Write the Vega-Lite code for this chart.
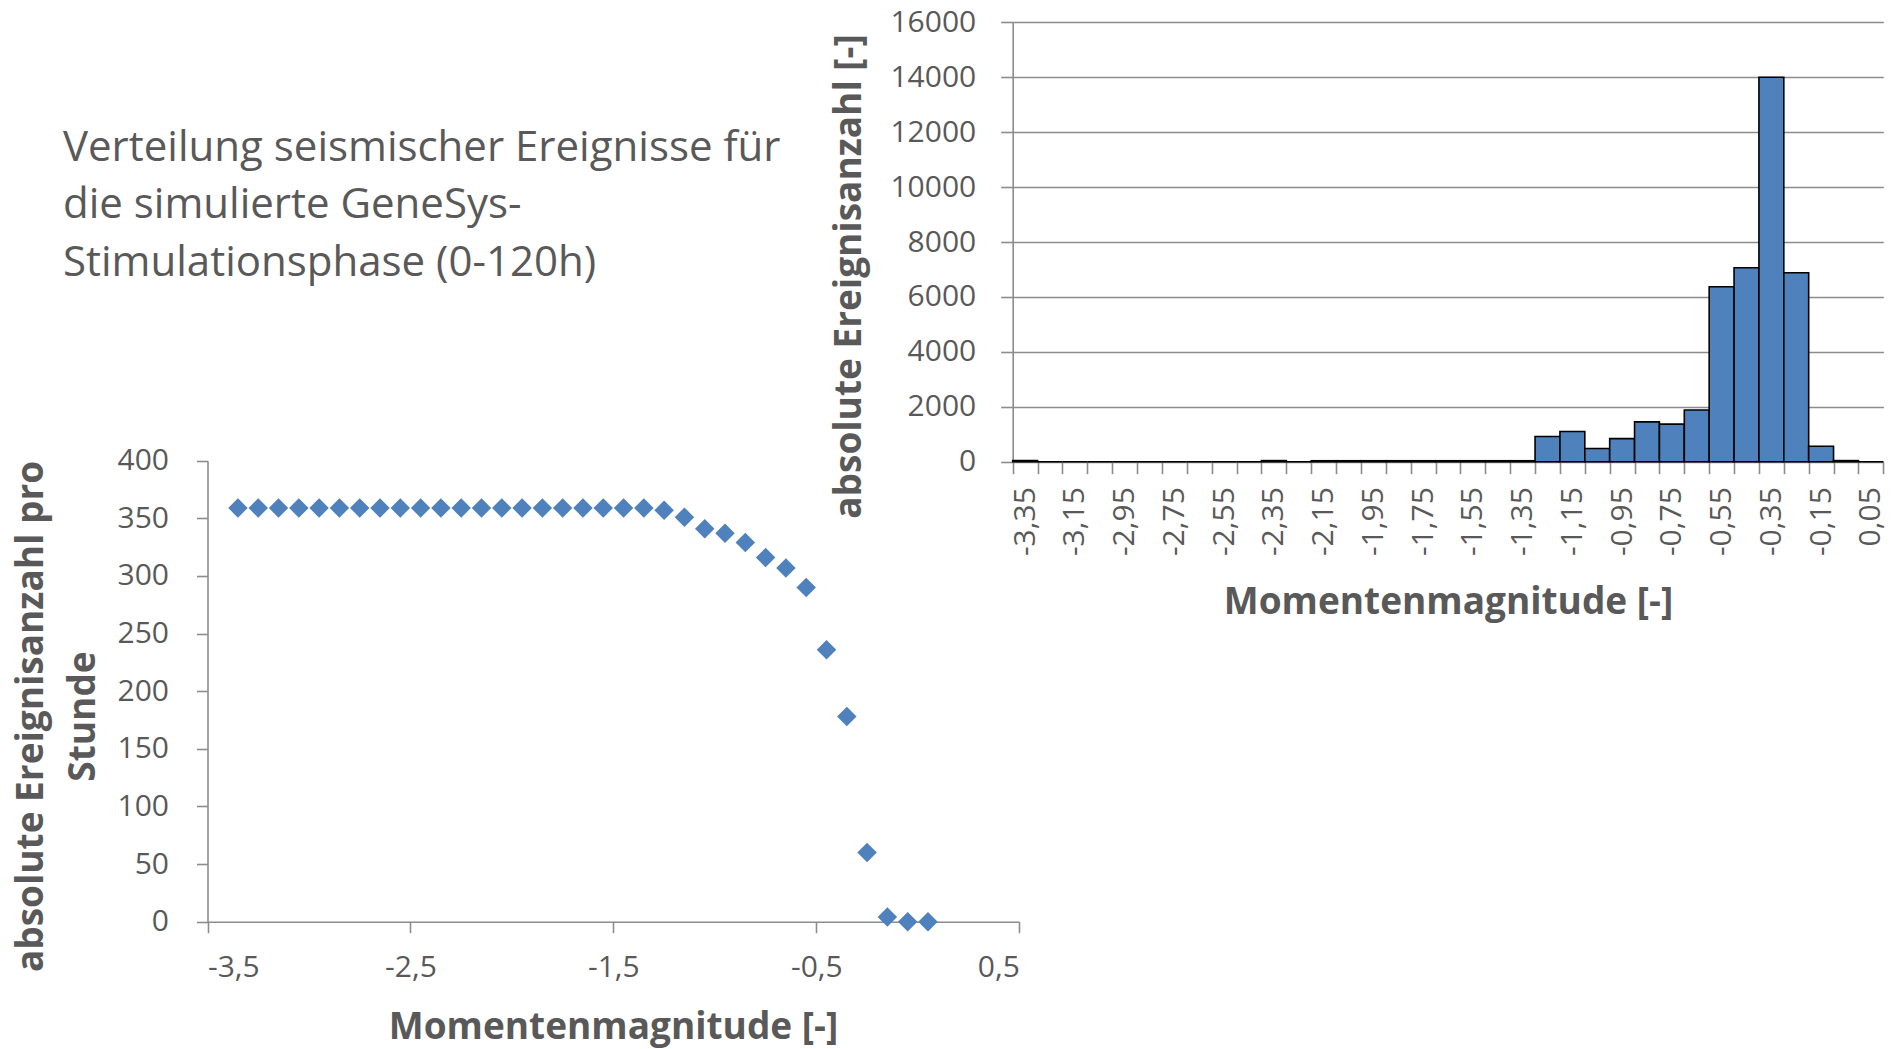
{
  "$schema": "https://vega.github.io/schema/vega-lite/v6.json",
  "width": 1901,
  "height": 1049,
  "autosize": "none",
  "padding": 0,
  "background": "white",
  "config": {
    "locale": {"number": {"decimal": ",", "thousands": "", "grouping": [3], "currency": ["", ""], "minus": "-"}},
    "view": {"stroke": null},
    "font": "Open Sans",
    "axis": {
      "labelFont": "Open Sans", "labelColor": "#595959", "labelFontSize": 30,
      "titleFont": "Open Sans", "titleColor": "#595959", "titleFontWeight": "bold", "titleFontSize": 37,
      "domainColor": "#8c8c8c", "tickColor": "#8c8c8c", "gridColor": "#8c8c8c",
      "domainWidth": 1.6, "tickWidth": 1.6, "gridWidth": 1.6
    }
  },
  "title": {
    "text": ["Verteilung seismischer Ereignisse für", "die simulierte GeneSys-", "Stimulationsphase (0-120h)"],
    "anchor": "start", "frame": "group", "orient": "top", "offset": 0,
    "baseline": "top", "dx": 63, "dy": 285,
    "font": "Open Sans", "fontSize": 42, "fontWeight": "normal", "color": "#595959", "lineHeight": 57.6
  },
  "datasets": {
    "hist": [
      {"m": -3.35, "n": 40}, {"m": -3.25, "n": 0}, {"m": -3.15, "n": 0}, {"m": -3.05, "n": 0},
      {"m": -2.95, "n": 0}, {"m": -2.85, "n": 0}, {"m": -2.75, "n": 0}, {"m": -2.65, "n": 0},
      {"m": -2.55, "n": 0}, {"m": -2.45, "n": 0}, {"m": -2.35, "n": 40}, {"m": -2.25, "n": 0},
      {"m": -2.15, "n": 35}, {"m": -2.05, "n": 35}, {"m": -1.95, "n": 35}, {"m": -1.85, "n": 35},
      {"m": -1.75, "n": 35}, {"m": -1.65, "n": 35}, {"m": -1.55, "n": 35}, {"m": -1.45, "n": 35},
      {"m": -1.35, "n": 35}, {"m": -1.25, "n": 915}, {"m": -1.15, "n": 1100}, {"m": -1.05, "n": 478},
      {"m": -0.95, "n": 840}, {"m": -0.85, "n": 1450}, {"m": -0.75, "n": 1370}, {"m": -0.65, "n": 1885},
      {"m": -0.55, "n": 6370}, {"m": -0.45, "n": 7060}, {"m": -0.35, "n": 14000}, {"m": -0.25, "n": 6880},
      {"m": -0.15, "n": 565}, {"m": -0.05, "n": 40}, {"m": 0.05, "n": 0}
    ],
    "cum": [
      {"m": -3.35, "r": 359}, {"m": -3.25, "r": 359}, {"m": -3.15, "r": 359}, {"m": -3.05, "r": 359},
      {"m": -2.95, "r": 359}, {"m": -2.85, "r": 359}, {"m": -2.75, "r": 359}, {"m": -2.65, "r": 359},
      {"m": -2.55, "r": 359}, {"m": -2.45, "r": 359}, {"m": -2.35, "r": 359}, {"m": -2.25, "r": 359},
      {"m": -2.15, "r": 359}, {"m": -2.05, "r": 359}, {"m": -1.95, "r": 359}, {"m": -1.85, "r": 359},
      {"m": -1.75, "r": 359}, {"m": -1.65, "r": 359}, {"m": -1.55, "r": 359}, {"m": -1.45, "r": 359},
      {"m": -1.35, "r": 359}, {"m": -1.25, "r": 357}, {"m": -1.15, "r": 351}, {"m": -1.05, "r": 341},
      {"m": -0.95, "r": 337}, {"m": -0.85, "r": 329}, {"m": -0.75, "r": 316}, {"m": -0.65, "r": 307},
      {"m": -0.55, "r": 290}, {"m": -0.45, "r": 236}, {"m": -0.35, "r": 178}, {"m": -0.25, "r": 60},
      {"m": -0.15, "r": 4}, {"m": -0.05, "r": 0}, {"m": 0.05, "r": 0}
    ]
  },
  "layer": [
    {
      "data": {"name": "hist"},
      "mark": {"type": "bar", "fill": "#4F81BD", "stroke": "#000000", "strokeWidth": 1.6},
      "encoding": {
        "x": {
          "field": "m", "type": "ordinal", "sort": "ascending",
          "scale": {"type": "band", "paddingInner": 0, "paddingOuter": 0, "range": [1012.7, 1883.3]},
          "axis": {
            "orient": "bottom", "offset": -587.3, "tickBand": "extent", "grid": false,
            "labelAngle": 270, "labelAlign": "right", "labelBaseline": "middle",
            "tickSize": 12, "labelPadding": 13,
            "labelExpr": "round((datum.value + 3.35) * 10) % 2 == 0 ? format(datum.value, '.2f') : ''",
            "title": "Momentenmagnitude [-]", "titleX": 1448, "titleY": 141,
            "titleAlign": "center", "titleBaseline": "middle"
          }
        },
        "y": {
          "field": "n", "type": "quantitative",
          "scale": {"domain": [0, 16000], "range": [461.7, 22.3], "nice": false},
          "axis": {
            "orient": "left", "offset": -1012.7, "grid": true,
            "values": [0, 2000, 4000, 6000, 8000, 10000, 12000, 14000, 16000], "format": "d",
            "tickSize": 12, "labelPadding": 25,
            "title": "absolute Ereignisanzahl [-]", "titleAngle": 270,
            "titleX": -163.7, "titleY": 276, "titleAlign": "center", "titleBaseline": "middle"
          }
        }
      }
    },
    {
      "data": {"name": "cum"},
      "mark": {"type": "point", "shape": "diamond", "filled": true, "size": 380, "color": "#4F81BD", "opacity": 1},
      "encoding": {
        "x": {
          "field": "m", "type": "quantitative",
          "scale": {"domain": [-3.5, 0.5], "range": [207.5, 1019.3], "nice": false, "zero": false},
          "axis": {
            "orient": "bottom", "offset": -127.3, "grid": false,
            "values": [-3.5, -2.5, -1.5, -0.5, 0.5], "format": ".1f",
            "tickSize": 11, "labelPadding": 20,
            "title": "Momentenmagnitude [-]", "titleX": 613, "titleY": 106,
            "titleAlign": "center", "titleBaseline": "middle"
          }
        },
        "y": {
          "field": "r", "type": "quantitative",
          "scale": {"domain": [0, 400], "range": [921.7, 460.7], "nice": false},
          "axis": {
            "orient": "left", "offset": -207.5, "grid": false,
            "values": [0, 50, 100, 150, 200, 250, 300, 350, 400],
            "tickSize": 11, "labelPadding": 28,
            "title": ["absolute Ereignisanzahl pro", "Stunde"], "titleAngle": 270, "titleLineHeight": 52,
            "titleX": -176.5, "titleY": 716, "titleAlign": "center", "titleBaseline": "middle"
          }
        }
      }
    }
  ],
  "resolve": {
    "scale": {"x": "independent", "y": "independent"},
    "axis": {"x": "independent", "y": "independent"}
  }
}
